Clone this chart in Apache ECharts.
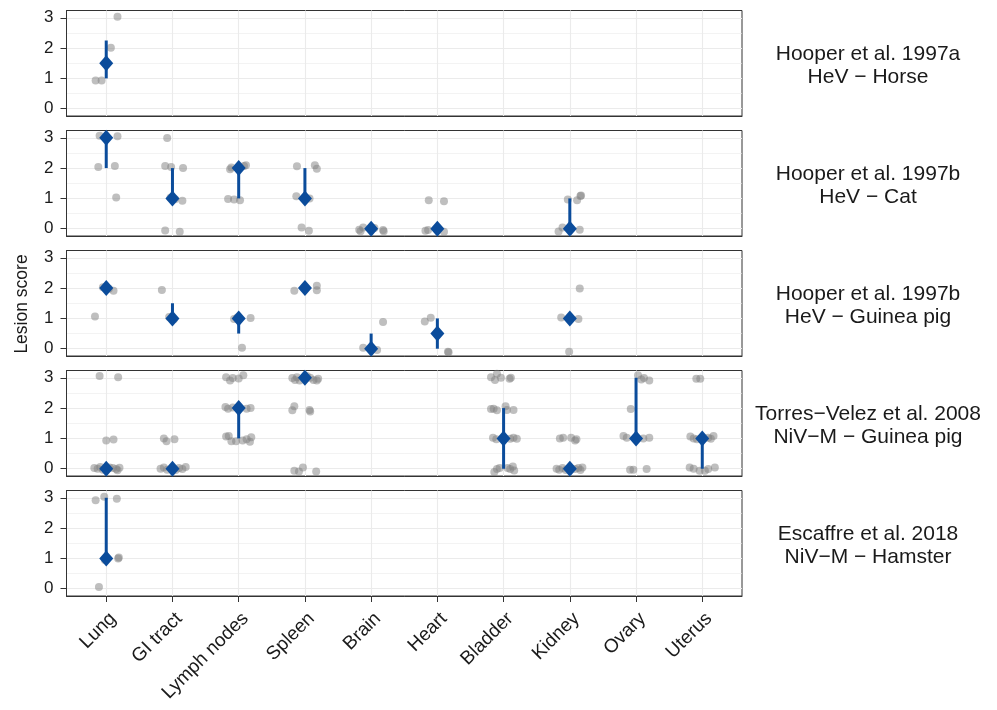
<!DOCTYPE html>
<html><head><meta charset="utf-8">
<script src="https://cdn.jsdelivr.net/npm/echarts@6/dist/echarts.min.js"></script>
<style>html,body{margin:0;padding:0;background:#fff}#c{width:997px;height:710px}</style>
</head><body><div id="c"></div><script>
// ---------- data ----------
const organs = ['Lung', 'GI tract', 'Lymph nodes', 'Spleen', 'Brain', 'Heart', 'Bladder', 'Kidney', 'Ovary', 'Uterus'];
const studyLabels = [
  'Hooper et al. 1997a\nHeV \u2212 Horse',
  'Hooper et al. 1997b\nHeV \u2212 Cat',
  'Hooper et al. 1997b\nHeV \u2212 Guinea pig',
  'Torres\u2212Velez et al. 2008\nNiV\u2212M \u2212 Guinea pig',
  'Escaffre et al. 2018\nNiV\u2212M \u2212 Hamster'
];
const yTicks = [0, 1, 2, 3];
const yMinorTicks = [0.5, 1.5, 2.5];

// individual animals: [organ index, horizontal jitter, lesion score (with vertical jitter)]
const horsePoints = [
  [0, 0.17, 3.03], [0, 0.07, 2.01], [0, -0.16, 0.93], [0, -0.07, 0.93]
];
const catPoints = [
  [0, -0.10, 3.07], [0, 0.17, 3.05], [0, 0.0, 3.0], [0, -0.12, 2.04], [0, 0.13, 2.07], [0, 0.15, 1.03],
  [1, -0.08, 2.99], [1, -0.11, 2.07], [1, -0.02, 2.04], [1, 0.16, 2.0], [1, -0.03, 1.02], [1, 0.04, 0.97], [1, 0.15, 0.92], [1, -0.11, -0.06], [1, 0.11, -0.10],
  [2, -0.13, 1.96], [2, -0.11, 2.02], [2, 0.08, 2.07], [2, 0.11, 2.09], [2, -0.16, 0.98], [2, -0.07, 0.96], [2, 0.02, 0.94],
  [3, -0.12, 2.06], [3, 0.15, 2.09], [3, 0.18, 1.98], [3, -0.13, 1.07], [3, 0.07, 1.0], [3, -0.05, 0.04], [3, 0.06, -0.07],
  [4, -0.18, -0.03], [4, -0.16, -0.08], [4, -0.12, 0.04], [4, 0.18, -0.04], [4, 0.19, -0.08], [4, 0.05, 0.02],
  [5, -0.13, 0.94], [5, 0.10, 0.91], [5, -0.18, -0.07], [5, -0.14, -0.04], [5, 0.10, -0.10], [5, 0.0, 0.02],
  [7, -0.03, 0.96], [7, 0.11, 0.94], [7, 0.16, 1.08], [7, 0.17, 1.10], [7, -0.17, -0.09], [7, -0.11, 0.04], [7, 0.15, -0.03]
];
const gpHevPoints = [
  [0, 0.11, 1.91], [0, -0.05, 2.03], [0, 0.04, 1.98], [0, -0.17, 1.06],
  [1, -0.16, 1.94], [1, -0.05, 1.05], [1, 0.02, 0.97],
  [2, -0.07, 0.98], [2, 0.18, 1.01], [2, -0.02, 1.03], [2, 0.05, 0.03],
  [3, -0.16, 1.91], [3, 0.18, 2.08], [3, 0.18, 1.93], [3, 0.0, 2.0],
  [4, 0.18, 0.88], [4, -0.12, 0.03], [4, 0.09, -0.04], [4, 0.0, -0.02],
  [5, -0.19, 0.90], [5, -0.10, 1.02], [5, 0.16, -0.10], [5, 0.17, -0.12],
  [7, 0.15, 1.99], [7, -0.13, 1.03], [7, 0.13, 0.98], [7, 0.0, 1.0], [7, -0.01, -0.10]
];
const gpNivPoints = [
  [0, -0.10, 3.06], [0, 0.18, 3.02], [0, 0.0, 0.93], [0, 0.11, 0.96],
  [0, -0.18, 0.02], [0, -0.13, 0.0], [0, -0.09, 0.06], [0, -0.05, -0.03], [0, 0.05, 0.04], [0, 0.10, 0.02], [0, 0.15, -0.01], [0, 0.20, 0.03], [0, 0.17, -0.05],
  [1, -0.13, 1.0], [1, -0.09, 0.91], [1, 0.03, 0.97],
  [1, -0.18, 0.0], [1, -0.13, 0.04], [1, -0.08, -0.03], [1, 0.10, 0.02], [1, 0.15, -0.01], [1, 0.20, 0.06], [1, 0.05, -0.04],
  [2, -0.19, 3.02], [2, -0.13, 2.91], [2, -0.09, 2.99], [2, 0.0, 2.98], [2, 0.07, 3.08],
  [2, -0.20, 2.04], [2, -0.16, 1.98], [2, -0.09, 2.02], [2, 0.12, 1.98], [2, 0.18, 2.0],
  [2, -0.19, 1.06], [2, -0.15, 1.08], [2, -0.11, 0.91], [2, -0.04, 0.91], [2, 0.06, 0.93], [2, 0.12, 0.97], [2, 0.17, 0.89], [2, 0.19, 1.04],
  [3, -0.19, 2.99], [3, -0.15, 2.93], [3, -0.12, 3.02], [3, -0.08, 2.91], [3, 0.08, 3.0], [3, 0.13, 2.93], [3, 0.18, 2.91], [3, 0.20, 2.97], [3, 0.03, 3.06],
  [3, -0.19, 1.93], [3, -0.16, 2.06], [3, 0.07, 1.94], [3, 0.08, 1.89],
  [3, -0.16, -0.07], [3, -0.09, -0.09], [3, -0.03, 0.04], [3, 0.17, -0.09],
  [6, -0.19, 3.02], [6, -0.13, 2.93], [6, -0.10, 3.13], [6, -0.04, 3.0], [6, 0.09, 2.97], [6, 0.11, 3.0],
  [6, -0.19, 1.97], [6, -0.15, 1.98], [6, -0.10, 1.93], [6, 0.03, 2.06], [6, 0.05, 1.94], [6, 0.15, 1.94],
  [6, -0.16, 1.02], [6, -0.11, 0.97], [6, 0.10, 0.99], [6, 0.15, 1.02], [6, 0.20, 0.99],
  [6, -0.14, -0.11], [6, -0.10, -0.01], [6, -0.06, 0.02], [6, 0.06, 0.02], [6, 0.10, -0.01], [6, 0.14, 0.07], [6, 0.16, -0.06],
  [7, -0.15, 1.0], [7, -0.10, 1.02], [7, 0.02, 1.02], [7, 0.08, 0.93], [7, 0.10, 0.97],
  [7, -0.20, 0.0], [7, -0.16, -0.03], [7, -0.11, 0.02], [7, -0.06, -0.04], [7, 0.08, -0.01], [7, 0.13, 0.02], [7, 0.19, 0.04], [7, 0.16, -0.04],
  [8, 0.03, 3.08], [8, 0.08, 2.94], [8, 0.12, 2.99], [8, 0.20, 2.91],
  [8, -0.08, 1.97],
  [8, -0.19, 1.08], [8, -0.14, 1.02], [8, 0.11, 1.0], [8, 0.20, 1.02],
  [8, -0.09, -0.03], [8, -0.04, -0.03], [8, 0.16, -0.01],
  [9, -0.09, 2.97], [9, -0.03, 2.97],
  [9, -0.18, 1.06], [9, -0.13, 1.0], [9, -0.08, 0.97], [9, 0.09, 1.02], [9, 0.13, 0.99], [9, 0.17, 1.08],
  [9, -0.19, 0.04], [9, -0.13, 0.0], [9, -0.04, -0.07], [9, 0.04, -0.07], [9, 0.09, -0.01], [9, 0.19, 0.04]
];
const hamsterPoints = [
  [0, -0.16, 2.92], [0, -0.03, 3.03], [0, 0.16, 2.97],
  [0, 0.18, 1.0], [0, 0.19, 1.03], [0, -0.02, 0.95],
  [0, -0.11, 0.06]
];

// summaries: [organ index, median, lower quartile, upper quartile]
const horseSummary = [[0, 1.5, 1, 2.25]];
const catSummary = [[0, 3, 2, 3], [1, 1, 1, 2], [2, 2, 1, 2], [3, 1, 1, 2], [4, 0, 0, 0], [5, 0, 0, 0], [7, 0, 0, 1]];
const gpHevSummary = [[0, 2, 2, 2], [1, 1, 1, 1.5], [2, 1, 0.5, 1], [3, 2, 2, 2], [4, 0, 0, 0.5], [5, 0.5, 0, 1], [7, 1, 1, 1]];
const gpNivSummary = [[0, 0, 0, 0], [1, 0, 0, 0], [2, 2, 1, 2], [3, 3, 3, 3], [6, 1, 0, 2], [7, 0, 0, 0], [8, 1, 1, 3], [9, 1, 0, 1]];
const hamsterSummary = [[0, 1, 1, 3]];

// ---------- chart ----------
const panels = [
  { label: studyLabels[0], points: horsePoints, summary: horseSummary },
  { label: studyLabels[1], points: catPoints, summary: catSummary },
  { label: studyLabels[2], points: gpHevPoints, summary: gpHevSummary },
  { label: studyLabels[3], points: gpNivPoints, summary: gpNivSummary },
  { label: studyLabels[4], points: hamsterPoints, summary: hamsterSummary }
];
const FONT = '"Liberation Sans", Arial, Helvetica, sans-serif';
const BLUE = '#0b4c9b';
const TEXT = '#1a1a1a';
const AXIS = '#333333';
const G_LEFT = 66.5, G_W = 675.5, G_TOP0 = 10.5, G_H = 105.5, G_STEP = 120;
const Y_MIN = -0.24, Y_MAX = 3.24;
const xPos = organs.map((_, k) => k + 1);

const grid = [], xAxis = [], yAxis = [], series = [], graphic = [];
panels.forEach((p, i) => {
  const top = G_TOP0 + i * G_STEP;
  const bottom = i === panels.length - 1;
  grid.push({ left: G_LEFT, top: top, width: G_W, height: G_H, show: true,
    borderColor: AXIS, borderWidth: 1, backgroundColor: '#ffffff' });
  xAxis.push({
    type: 'value', gridIndex: i, min: 0.4, max: 10.6, position: 'bottom',
    axisLine: { show: true, onZero: false, lineStyle: { color: AXIS, width: 1 } },
    axisTick: { show: bottom, customValues: xPos, length: 6, lineStyle: { color: AXIS, width: 1 } },
    axisLabel: { show: bottom, customValues: xPos, formatter: v => organs[Math.round(v) - 1] || '',
      rotate: 45, verticalAlign: 'top', fontSize: 19, color: TEXT, fontFamily: FONT, margin: 13 },
    splitLine: { show: true, lineStyle: { color: '#ebebeb', width: 1.1 } }
  });
  yAxis.push({
    type: 'value', gridIndex: i, min: Y_MIN, max: Y_MAX, position: 'left',
    axisLine: { show: true, onZero: false, lineStyle: { color: AXIS, width: 1 } },
    axisTick: { show: true, customValues: yTicks, length: 6, lineStyle: { color: AXIS, width: 1 } },
    axisLabel: { show: true, customValues: yTicks, fontSize: 17, color: TEXT, fontFamily: FONT, margin: 13 },
    splitLine: { show: true, lineStyle: { color: '#ebebeb', width: 1.1 } }
  });
  yAxis.push({
    type: 'value', gridIndex: i, min: Y_MIN, max: Y_MAX, position: 'left',
    axisLine: { show: false },
    axisTick: { show: false, customValues: yMinorTicks },
    axisLabel: { show: false, customValues: yMinorTicks },
    splitLine: { show: true, lineStyle: { color: '#ebebeb', width: 0.6 } }
  });
  series.push({
    type: 'scatter', xAxisIndex: i, yAxisIndex: 2 * i, silent: true, z: 2,
    symbol: 'circle', symbolSize: 8,
    itemStyle: { color: 'rgba(127,127,127,0.5)', opacity: 1 },
    data: p.points.map(d => [d[0] + 1 + d[1], d[2]])
  });
  series.push({
    type: 'custom', xAxisIndex: i, yAxisIndex: 2 * i, silent: true, z: 3,
    encode: { x: 0, y: [1, 2] },
    data: p.summary.map(s => [s[0] + 1, s[2], s[3]]),
    renderItem: (params, api) => {
      const a = api.coord([api.value(0), api.value(1)]);
      const b = api.coord([api.value(0), api.value(2)]);
      return { type: 'line', shape: { x1: a[0], y1: a[1], x2: b[0], y2: b[1] },
        style: { stroke: BLUE, lineWidth: 3 } };
    }
  });
  series.push({
    type: 'scatter', xAxisIndex: i, yAxisIndex: 2 * i, silent: true, z: 4,
    symbol: 'diamond', symbolSize: [14, 16],
    itemStyle: { color: BLUE, opacity: 1 },
    data: p.summary.map(s => [s[0] + 1, s[1]])
  });
  graphic.push({
    type: 'text', silent: true, x: 868, y: top + G_H / 2 + 2,
    style: {
      text: p.label, font: '21px ' + FONT, fill: TEXT, align: 'center', verticalAlign: 'middle', lineHeight: 23
    }
  });
});
graphic.push({
  type: 'text', silent: true, x: 22, y: 304, rotation: Math.PI / 2,
  style: { text: 'Lesion score', font: '17.5px ' + FONT, fill: TEXT, align: 'center', verticalAlign: 'middle' }
});

const chart = echarts.init(document.getElementById('c'), null, { renderer: 'canvas' });
chart.setOption({
  backgroundColor: '#ffffff',
  animation: false,
  grid: grid, xAxis: xAxis, yAxis: yAxis, series: series, graphic: graphic
});
</script></body></html>
